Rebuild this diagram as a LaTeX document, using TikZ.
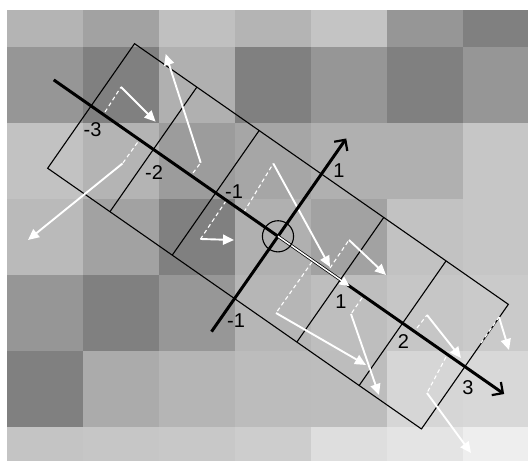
\documentclass[tikz,border=0pt]{standalone}
\usepackage{fontspec}
\setmainfont{Liberation Sans}
\usetikzlibrary{arrows.meta}
\begin{document}
\begin{tikzpicture}[x=1pt,y=1pt,
  gridline/.style={line width=1.1pt, black},
  axisline/.style={line width=3pt, black, -{Straight Barb[length=8pt,width=16pt,line width=2.2pt]}},
  solidarrow/.style={white, line width=1.9pt, -{Triangle[length=11pt,width=10pt]}},
  dasharrow/.style={white, line width=1.1pt, dash pattern=on 4pt off 3pt},
  lab/.style={inner sep=0pt, font=\fontsize{20}{22}\selectfont}]
\useasboundingbox (0,0) rectangle (528,461);
\fill[white] (0,0) rectangle (528,461);
% ---------- pixel-coordinate scope (y downward) ----------
\begin{scope}[yshift=461pt, y=-1pt]
  \foreach \ya/\yb/\vals in {
     10/47/{180,162,192,180,196,150,128},
     47/123/{150,128,176,128,150,128,150},
     123/199/{194,180,156,166,176,176,198},
     199/275/{186,162,128,176,162,194,198},
     275/351/{150,128,151,182,190,198,202},
     351/427/{128,171,181,188,189,214,216},
     427/461/{196,198,200,205,222,228,238}} {
    \foreach \g [count=\c from 0] in \vals {
      \pgfmathsetmacro\xa{7+76*\c}
      \pgfmathsetmacro\xb{min(83+76*\c,528)}
      \fill[fill={rgb,255:red,\g;green,\g;blue,\g}] (\xa,\ya) rectangle (\xb,\yb);
    }
  }
\end{scope}
% ---------- rotated frame: thin cell lines ----------
\begin{scope}[shift={(278pt,224.7pt)}, x={(62.3pt,-43.45pt)}, y={(43.45pt,62.3pt)}]
  \draw[gridline] (-3,-1) -- (3,-1) -- (3,1) -- (-3,1) -- cycle;
  \foreach \a in {-2,-1,1,2} \draw[gridline] (\a,-1) -- (\a,1);
\end{scope}
% ---------- white gradient arrows (pixel coords) ----------
\begin{scope}[yshift=461pt, y=-1pt]
  \coordinate (c0) at (278,236.3);
  \foreach \sx/\sy/\mx/\my/\ex/\ey in {
     105/112/121/87/155.6/121.7,
     193/173/200.7/162.7/165.7/54,
     137.5/142.5/122.5/163.5/28/240,
     226/201/200.5/239/234/240,
     244/212/273.3/163.5/330/267,
     330/268/349/240/386/275,
     312/262/276/313/366/365,
     362/298/351/314/379/395,
     417/328/427/315/461/358,
     446/357/427/393/471/453,
     481/343/499/317/509/350} {
    \draw[dasharrow] (\sx,\sy) -- (\mx,\my);
    \draw[solidarrow] (\mx,\my) -- (\ex,\ey);
  }
\end{scope}
% ---------- axes ----------
\begin{scope}[shift={(278pt,224.7pt)}, x={(62.3pt,-43.45pt)}, y={(43.45pt,62.3pt)}]
  \coordinate (O) at (0,0);
  \coordinate (mainS) at (-3.6,0);
  \coordinate (mainE) at (3.63,0);
  \coordinate (perpS) at (0,-1.53);
  \coordinate (perpE) at (0,1.57);
  \coordinate (unitE) at (1.15,0);
  \draw[axisline] (mainS) -- (mainE);
  \draw[axisline] (perpS) -- (perpE);
  \draw[white, line width=1.5pt, -{Triangle[length=10pt,width=9pt]}] (O) -- (unitE);
  \draw[line width=1.1pt] (O) circle[radius=0.205];
\end{scope}
% ---------- labels ----------
\begin{scope}[yshift=461pt, y=-1pt]
  \node[lab] (lm3) at (92.5,130) {-3};
  \node[lab] (lm2) at (154,172.5) {-2};
  \node[lab] (lm1) at (234,191.5) {-1};
  \node[lab] (lp1) at (341,301.5) {1};
  \node[lab] (lp2) at (403.5,341.5) {2};
  \node[lab] (lp3) at (468,387.5) {3};
  \node[lab] (lv1) at (339,170.5) {1};
  \node[lab] (lvm1) at (236,321) {-1};
\end{scope}
\end{tikzpicture}
\end{document}
